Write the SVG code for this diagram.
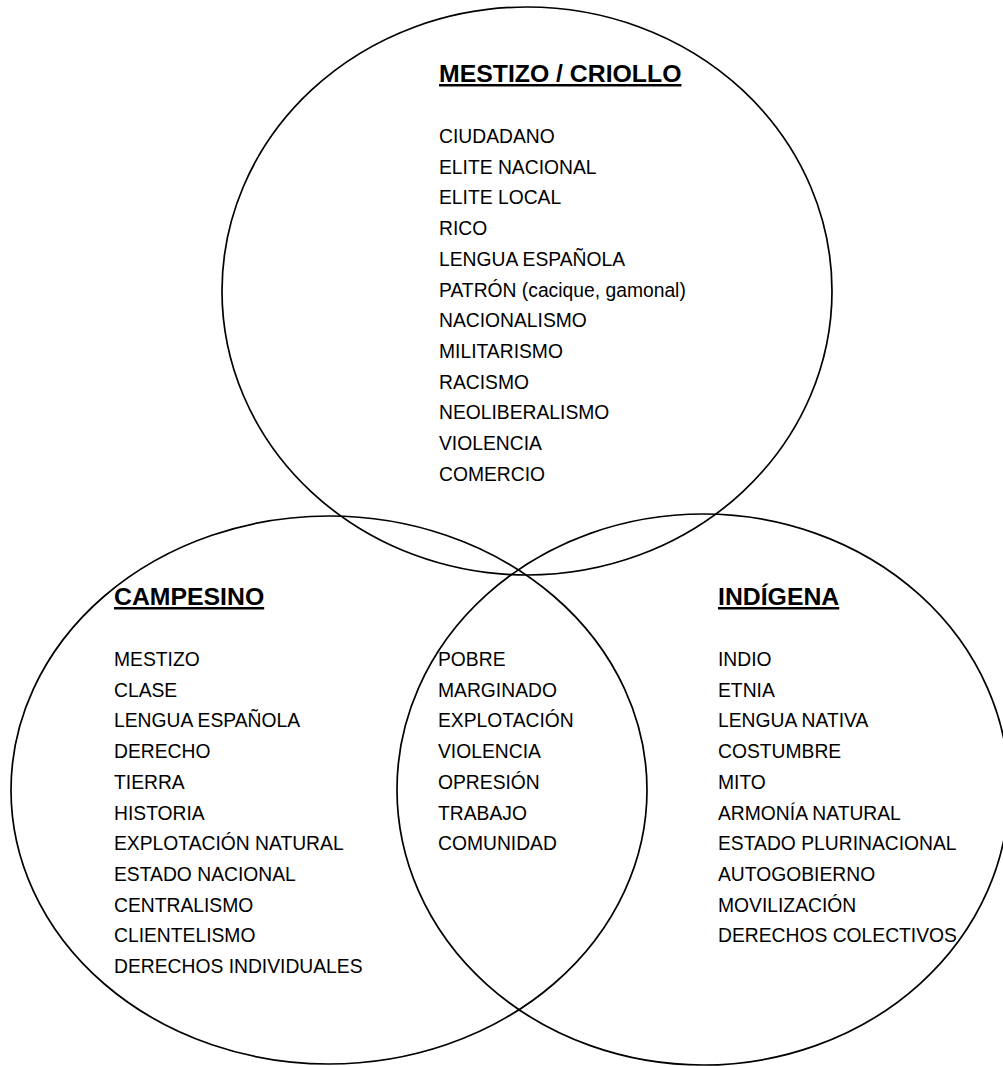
<svg xmlns="http://www.w3.org/2000/svg" width="1003" height="1066" viewBox="0 0 1003 1066">
<style>
.c{fill:none;stroke:#000;stroke-width:1.7}
.t{font-family:"Liberation Sans",Arial,sans-serif;font-size:24.8px;font-weight:bold;text-decoration:underline;fill:#000}
.i{font-family:"Liberation Sans",Arial,sans-serif;font-size:19.3px;fill:#000}
</style>
<rect width="1003" height="1066" fill="#fff"/>
<g id="connectors"></g>
<g id="mestizo-criollo">
<ellipse class="c" cx="527" cy="291" rx="305" ry="284"/>
<text class="t" x="439" y="82">MESTIZO / CRIOLLO</text>
<text class="i" x="439" y="143">CIUDADANO</text>
<text class="i" x="439" y="173.7">ELITE NACIONAL</text>
<text class="i" x="439" y="204.4">ELITE LOCAL</text>
<text class="i" x="439" y="235.1">RICO</text>
<text class="i" x="439" y="265.8">LENGUA ESPAÑOLA</text>
<text class="i" x="439" y="296.5">PATRÓN (cacique, gamonal)</text>
<text class="i" x="439" y="327.2">NACIONALISMO</text>
<text class="i" x="439" y="357.9">MILITARISMO</text>
<text class="i" x="439" y="388.6">RACISMO</text>
<text class="i" x="439" y="419.3">NEOLIBERALISMO</text>
<text class="i" x="439" y="450">VIOLENCIA</text>
<text class="i" x="439" y="480.7">COMERCIO</text>
</g>
<g id="campesino">
<ellipse class="c" cx="329" cy="790" rx="318" ry="274"/>
<text class="t" x="114" y="605">CAMPESINO</text>
<text class="i" x="114" y="666">MESTIZO</text>
<text class="i" x="114" y="696.7">CLASE</text>
<text class="i" x="114" y="727.4">LENGUA ESPAÑOLA</text>
<text class="i" x="114" y="758.1">DERECHO</text>
<text class="i" x="114" y="788.8">TIERRA</text>
<text class="i" x="114" y="819.5">HISTORIA</text>
<text class="i" x="114" y="850.2">EXPLOTACIÓN NATURAL</text>
<text class="i" x="114" y="880.9">ESTADO NACIONAL</text>
<text class="i" x="114" y="911.6">CENTRALISMO</text>
<text class="i" x="114" y="942.3">CLIENTELISMO</text>
<text class="i" x="114" y="973">DERECHOS INDIVIDUALES</text>
</g>
<g id="indigena">
<ellipse class="c" cx="703" cy="789.5" rx="306" ry="275.5"/>
<text class="t" x="718" y="605">INDÍGENA</text>
<text class="i" x="718" y="666">INDIO</text>
<text class="i" x="718" y="696.7">ETNIA</text>
<text class="i" x="718" y="727.4">LENGUA NATIVA</text>
<text class="i" x="718" y="758.1">COSTUMBRE</text>
<text class="i" x="718" y="788.8">MITO</text>
<text class="i" x="718" y="819.5">ARMONÍA NATURAL</text>
<text class="i" x="718" y="850.2">ESTADO PLURINACIONAL</text>
<text class="i" x="718" y="880.9">AUTOGOBIERNO</text>
<text class="i" x="718" y="911.6">MOVILIZACIÓN</text>
<text class="i" x="718" y="942.3">DERECHOS COLECTIVOS</text>
</g>
<g id="shared">
<text class="i" x="438" y="666">POBRE</text>
<text class="i" x="438" y="696.7">MARGINADO</text>
<text class="i" x="438" y="727.4">EXPLOTACIÓN</text>
<text class="i" x="438" y="758.1">VIOLENCIA</text>
<text class="i" x="438" y="788.8">OPRESIÓN</text>
<text class="i" x="438" y="819.5">TRABAJO</text>
<text class="i" x="438" y="850.2">COMUNIDAD</text>
</g>
</svg>
